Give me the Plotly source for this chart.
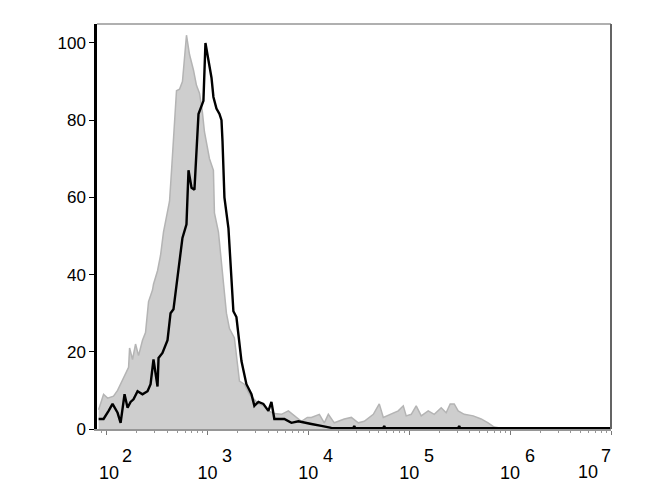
import numpy as np
import plotly.graph_objects as go

# log10 of fluorescence intensity for each histogram point, with % of max count
control_log = [
    1.921, 1.970, 2.010, 2.069, 2.109, 2.139, 2.188, 2.218, 2.228, 2.257,
    2.287, 2.317, 2.356, 2.386, 2.416, 2.455, 2.465, 2.505, 2.535, 2.564,
    2.594, 2.624, 2.644, 2.673, 2.693, 2.723, 2.752, 2.792, 2.822, 2.861,
    2.891, 2.921, 2.950, 2.970, 3.000, 3.020, 3.059, 3.069, 3.109, 3.158,
    3.188, 3.218, 3.267, 3.317, 3.366, 3.416, 3.455, 3.505, 3.554, 3.604,
    3.663, 3.733, 3.802, 3.861, 3.931, 3.990, 4.030, 4.109, 4.158, 4.198,
    4.257, 4.356, 4.426, 4.495, 4.554, 4.644, 4.703, 4.743, 4.822, 4.891,
    4.941, 4.970, 5.020, 5.069, 5.119, 5.188, 5.248, 5.317, 5.366, 5.406,
    5.446, 5.485, 5.545, 5.634, 5.713, 5.782, 5.842, 5.911, 7.000,
]
control_pct = [
    5, 9, 8, 8.5, 10, 11.6, 14, 16, 21, 18,
    22, 19, 23, 25, 33, 36, 37.5, 41, 45, 51,
    55, 59, 67, 78, 87.6, 88, 90, 102, 97, 93,
    89, 87, 82, 77, 73, 70, 67, 56, 51, 38,
    30, 26, 23.6, 12.4, 11.6, 9, 8, 6.5, 6, 4.7,
    4, 3.8, 4.7, 3.4, 2, 3, 3, 3.8, 1.6, 3.8,
    1.6, 2.6, 3, 1.6, 2, 3.8, 6.5, 3, 3.8, 4.7,
    6, 3.4, 3.8, 6, 3.4, 4.7, 3.8, 5.5, 4.2, 6.5,
    6.5, 4.7, 3.8, 3.4, 2.6, 1.6, 0.5, 0.2, 0,
]

stained_log = [
    1.921, 1.970, 2.020, 2.059, 2.109, 2.139, 2.178, 2.208, 2.238, 2.267,
    2.307, 2.356, 2.406, 2.436, 2.465, 2.505, 2.515, 2.554, 2.604, 2.634,
    2.663, 2.703, 2.752, 2.792, 2.812, 2.842, 2.871, 2.911, 2.960, 2.980,
    3.000, 3.020, 3.040, 3.059, 3.089, 3.119, 3.139, 3.149, 3.168, 3.208,
    3.257, 3.287, 3.337, 3.386, 3.436, 3.465, 3.505, 3.554, 3.604, 3.634,
    3.663, 3.762, 3.832, 3.901, 3.960, 4.030, 4.129, 4.228, 4.366, 4.376,
    4.386, 4.445, 4.455, 4.465, 4.742, 4.752, 4.762, 5.485, 5.495, 5.505,
    7.000,
]
stained_pct = [
    2.6, 2.6, 4.7, 6.5, 4.2, 1.6, 9, 5.5, 7, 7.7,
    9.8, 9, 9.8, 11.6, 18, 11, 18.4, 19.7, 23, 30,
    31, 40, 49.5, 53, 67, 62.5, 62, 81.6, 85, 100,
    97, 94.5, 91, 86, 83, 81.6, 80, 74.6, 60, 52,
    30.5, 29, 17.6, 11.6, 9, 6, 7, 6.5, 4.7, 7,
    2.6, 2.6, 1.6, 2, 1.6, 1.3, 0.8, 0.3, 0.2, 0.3,
    0.2, 0.2, 0.8, 0.2, 0.2, 0.8, 0.2, 0.2, 0.8, 0.2,
    0.2,
]

decades = [2, 3, 4, 5, 6, 7]

FONT = "Liberation Sans, Arial, sans-serif"
NBSP = "\u00a0"
LABEL_FONT = dict(size=18, family=FONT, color="black")

fig = go.Figure()

fig.add_trace(go.Scatter(
    x=10 ** np.array(control_log),
    y=control_pct,
    mode="lines",
    fill="tozeroy",
    fillcolor="rgb(206,206,206)",
    line=dict(color="rgb(180,180,180)", width=1.5),
    showlegend=False,
))

fig.add_trace(go.Scatter(
    x=10 ** np.array(stained_log),
    y=stained_pct,
    mode="lines",
    line=dict(color="black", width=2.4),
    showlegend=False,
))

# the 10^7 label sits inside the frame, so it is drawn as an annotation
tick_text = []
for d in decades:
    if d == 7:
        tick_text.append("")
    elif d == 2:
        tick_text.append(NBSP + "10")
    else:
        tick_text.append("10")

# exponents drawn full size beside the "10" tick labels
notes = [
    dict(x=d, xref="x", y=0, yref="paper", text=str(d), showarrow=False,
         xanchor="center", yanchor="middle",
         xshift=-5 if d == 7 else 20, yshift=-27, font=LABEL_FONT)
    for d in decades
]
notes.append(dict(x=7, xref="x", y=0, yref="paper", text="10", showarrow=False,
                  xanchor="center", yanchor="middle", xshift=-23, yshift=-43,
                  font=LABEL_FONT))

fig.update_layout(
    width=670,
    height=500,
    margin=dict(l=89, r=67, t=16, b=79),
    paper_bgcolor="white",
    plot_bgcolor="white",
    font=dict(family=FONT, color="black"),
    annotations=notes,
    # frame: grey top/right edges
    shapes=[
        dict(type="line", xref="paper", yref="paper", x0=0, x1=1, y0=1, y1=1,
             line=dict(color="rgb(150,150,150)", width=1.5)),
        dict(type="line", xref="paper", yref="paper", x0=1, x1=1, y0=0, y1=1,
             line=dict(color="rgb(100,100,100)", width=2)),
    ],
)

fig.update_xaxes(
    type="log",
    range=[1.905, 7.0],
    tickvals=[10 ** d for d in decades],
    ticktext=tick_text,
    tickfont=LABEL_FONT,
    ticks="outside",
    ticklen=4,
    tickcolor="rgb(120,120,120)",
    ticklabelstandoff=23,
    minor=dict(ticks="outside", ticklen=2, dtick="D1", tickcolor="rgb(150,150,150)"),
    showline=True,
    linecolor="rgb(150,150,150)",
    linewidth=1.5,
    showgrid=False,
    zeroline=False,
)

fig.update_yaxes(
    range=[0, 104.9],
    tickvals=[0, 20, 40, 60, 80, 100],
    tickfont=dict(size=17, family=FONT),
    ticks="outside",
    ticklen=5,
    tickcolor="black",
    showline=True,
    linecolor="black",
    linewidth=2.5,
    showgrid=False,
    zeroline=False,
)

fig.write_html("out.html")
